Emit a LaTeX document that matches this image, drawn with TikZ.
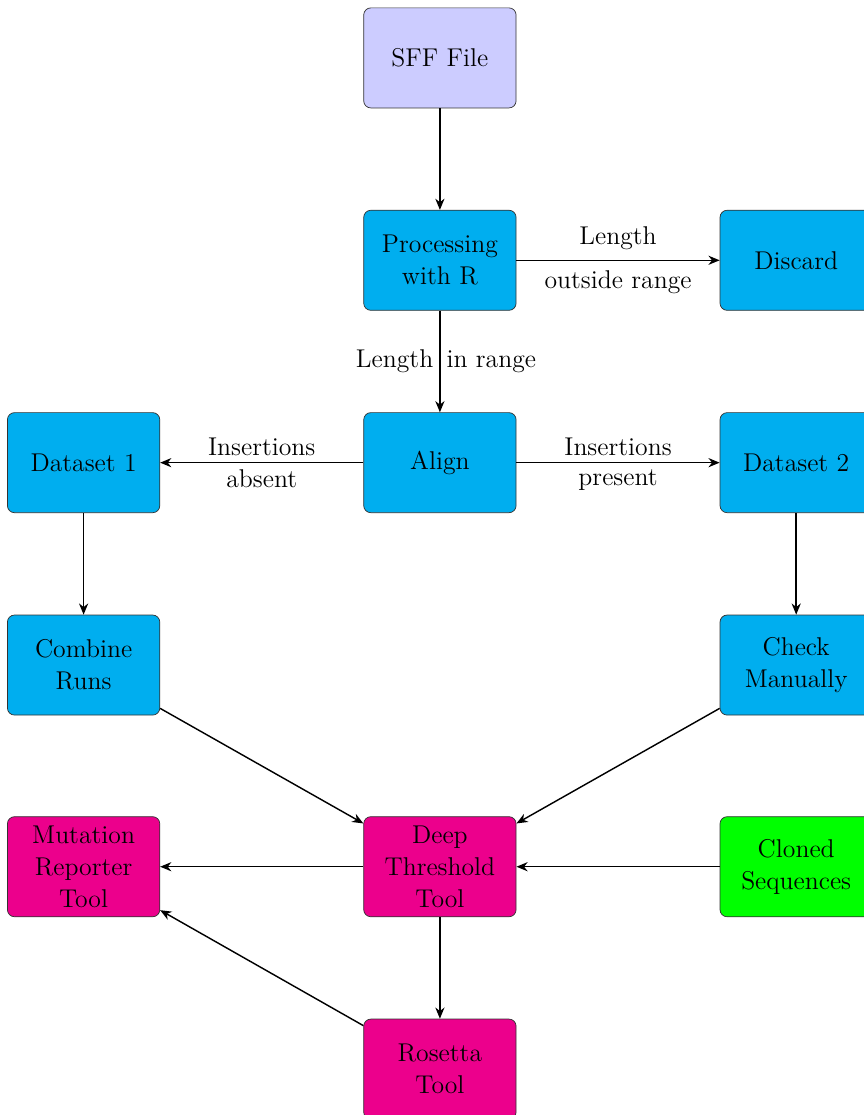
\documentclass[tikz,border=0pt]{standalone}
\usepackage{tikz}
\usetikzlibrary{positioning,arrows.meta}
\usepackage{xcolor}
\definecolor{procblue}{RGB}{0,174,239}
\definecolor{toolpink}{RGB}{236,0,140}

\begin{document}
\begin{tikzpicture}[
  font=\Large, >={Stealth[length=2.2mm,width=1.8mm,inset=0.7mm]},
  box/.style={draw=black!80, rounded corners=4pt, minimum width=3cm, minimum height=1.97cm, align=center, inner sep=2pt},
  infile/.style={box, fill=blue!20},
  procbox/.style={box, fill=procblue},
  tool/.style={box, fill=toolpink},
  refbox/.style={box, fill=green},
  edge/.style={->, thick},
]
\useasboundingbox (-8.66,1.14) rectangle (8.33,-20.81);

% input and filtering
\node[infile] (sff) {SFF File};
\node[procbox, below=2cm of sff] (proc) {Processing\\with R};
\node[procbox, right=4cm of proc] (discard) {Discard};
\node[procbox, below=2cm of proc] (align) {Align};
\draw[edge] (sff) -- (proc);
\draw[edge] (proc) -- node[above=2pt]{Length} node[below=2pt]{outside range} (discard);
\draw[edge] (proc) -- node[left]{Length} node[right]{in range} (align);

% two datasets
\node[procbox, left=4cm of align] (ds1) {Dataset 1};
\node[procbox, right=4cm of align] (ds2) {Dataset 2};
\draw[edge] (align) -- node[above]{Insertions} node[below]{absent} (ds1);
\draw[edge] (align) -- node[above]{Insertions} node[below]{present} (ds2);

\node[procbox, below=2cm of ds1] (combine) {Combine\\Runs};
\node[procbox, below=2cm of ds2] (check) {Check\\Manually};
\draw[edge] (ds1) -- (combine);
\draw[edge] (ds2) -- (check);

% tools
\node[tool, below=2cm of align, yshift=-3.97cm] (deep) {Deep\\Threshold\\Tool};
\node[tool, left=4cm of deep] (mutrep) {Mutation\\Reporter\\Tool};
\node[refbox, right=4cm of deep] (cloned) {Cloned\\Sequences};
\node[tool, below=2cm of deep] (rosetta) {Rosetta\\Tool};
\draw[edge] (combine) -- (deep);
\draw[edge] (check) -- (deep);
\draw[edge] (cloned) -- (deep);
\draw[edge] (deep) -- (mutrep);
\draw[edge] (deep) -- (rosetta);
\draw[edge] (rosetta) -- (mutrep);
\end{tikzpicture}
\end{document}
